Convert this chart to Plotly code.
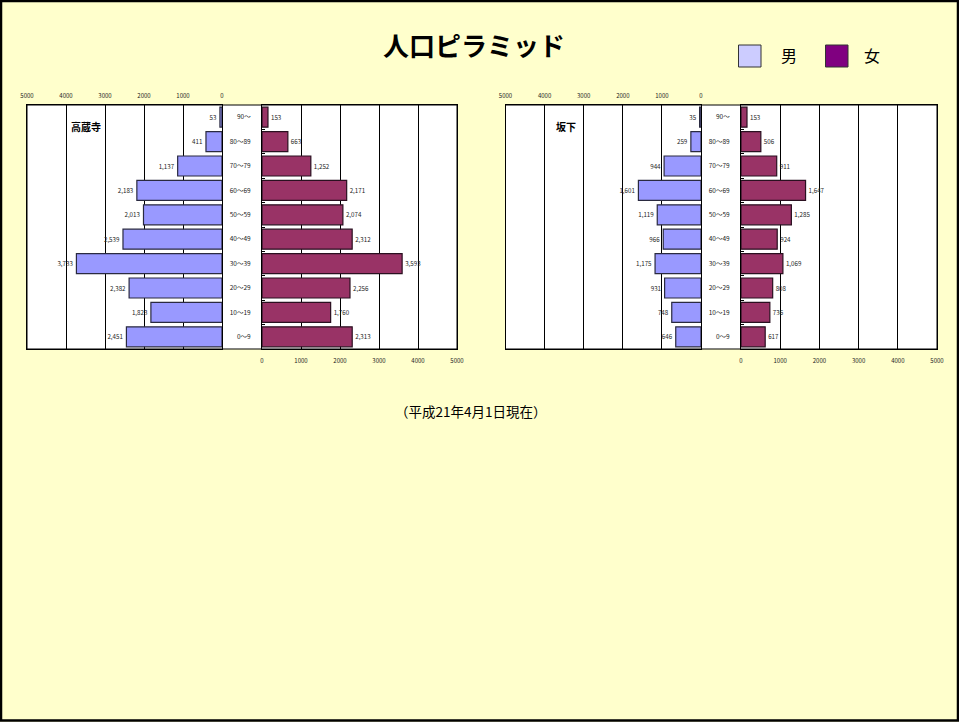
import plotly.graph_objects as go

W, H = 959, 722

age_groups = ["0～9", "10～19", "20～29", "30～39", "40～49",
              "50～59", "60～69", "70～79", "80～89", "90～"]

kozoji_male = [2451, 1823, 2382, 3733, 2539, 2013, 2183, 1137, 411, 53]
kozoji_female = [2313, 1760, 2256, 3593, 2312, 2074, 2171, 1252, 663, 153]
sakashita_male = [646, 748, 931, 1175, 966, 1119, 1601, 944, 259, 35]
sakashita_female = [617, 736, 808, 1069, 924, 1285, 1647, 911, 506, 153]

tick_vals = [0, 1000, 2000, 3000, 4000, 5000]
tick_text = ["0", "1000", "2000", "3000", "4000", "5000"]

MALE_BAR = "#9999FF"
FEMALE_BAR = "#993366"
MALE_LEG = "#CCCCFF"
FEMALE_LEG = "#800080"
BG = "#FFFFCC"
GOTHIC = "Noto Sans CJK JP, Liberation Sans, sans-serif"
TXT = "#222222"


def fx(px):
    return px / W


def fy(py):
    return 1 - py / H


PLOT_TOP, PLOT_BOT = 105, 349

fig = go.Figure()

panels = [
    ("x", "y", kozoji_male, "male"),
    ("x2", "y2", kozoji_female, "female"),
    ("x3", "y3", sakashita_male, "male"),
    ("x4", "y4", sakashita_female, "female"),
]

for xa, ya, vals, sex in panels:
    fig.add_trace(go.Bar(
        x=vals, y=age_groups, orientation="h",
        xaxis=xa, yaxis=ya,
        marker=dict(color=MALE_BAR if sex == "male" else FEMALE_BAR,
                    line=dict(color="#2a2a40" if sex == "male" else "#2a1020", width=1.2)),
        texttemplate="%{x:,}", textposition="outside",
        textfont=dict(size=6.2, color=TXT, family=GOTHIC),
        constraintext="none", cliponaxis=False,
        showlegend=False, hoverinfo="skip",
    ))

common_x = dict(
    range=[0, 5000], tickvals=tick_vals, ticktext=tick_text,
    tickfont=dict(size=6, color=TXT, family=GOTHIC),
    showgrid=True, gridcolor="#000000", gridwidth=1,
    showline=True, linecolor="#000000", linewidth=1, mirror=True,
    zeroline=False, ticks="", fixedrange=True, automargin=False,
)

domains = {
    "x": (27, 222), "x2": (262, 457),
    "x3": (505.5, 701), "x4": (741, 937),
}

layout = dict(
    width=W, height=H, autosize=False,
    margin=dict(l=0, r=0, t=0, b=0, pad=0),
    paper_bgcolor=BG, plot_bgcolor="#FFFFFF",
    bargap=0.18, showlegend=False,
    font=dict(family=GOTHIC),
)

for key in ["x", "x2", "x3", "x4"]:
    name = "xaxis" if key == "x" else "xaxis" + key[1:]
    yname = "yaxis" if key == "x" else "yaxis" + key[1:]
    male = key in ("x", "x3")
    d0, d1 = domains[key]
    xa = dict(common_x)
    xa["domain"] = [fx(d0), fx(d1)]
    xa["anchor"] = "y" if key == "x" else "y" + key[1:]
    if male:
        xa["range"] = [5000, 0]
        xa["side"] = "top"
        xa["ticklabelstandoff"] = 4
    else:
        xa["side"] = "bottom"
        xa["ticklabelstandoff"] = 6
    layout[name] = xa

    ya = dict(
        domain=[fy(PLOT_BOT), fy(PLOT_TOP)],
        anchor=key,
        type="category", categoryorder="array", categoryarray=age_groups,
        showline=True, linecolor="#000000", linewidth=1, mirror=True,
        showgrid=False, zeroline=False, fixedrange=True, automargin=False,
    )
    if male:
        ya["showticklabels"] = False
        ya["ticks"] = ""
    else:
        ya["side"] = "left"
        ya["showticklabels"] = True
        ya["tickfont"] = dict(size=6.5, color=TXT, family=GOTHIC)
        ya["ticklabelstandoff"] = 9
        ya["ticks"] = "inside"
        ya["tickson"] = "boundaries"
        ya["ticklen"] = 3
        ya["tickcolor"] = "#000000"
    layout[yname] = ya

fig.update_layout(**layout)

shapes = []
# white middle column with top/bottom border for each pyramid
for (l, r) in [(27, 457), (505.5, 937)]:
    shapes.append(dict(type="rect", xref="paper", yref="paper",
                       x0=fx(l), x1=fx(r), y0=fy(PLOT_BOT), y1=fy(PLOT_TOP),
                       fillcolor="#FFFFFF", line=dict(color="#000000", width=1),
                       layer="below"))
# outer frame
shapes.append(dict(type="rect", xref="paper", yref="paper",
                   x0=fx(1), x1=fx(958), y0=fy(720.5), y1=fy(1),
                   line=dict(color="#000000", width=2.5), fillcolor="rgba(0,0,0,0)"))
# legend swatches
shapes.append(dict(type="rect", xref="paper", yref="paper",
                   x0=fx(738.5), x1=fx(761), y0=fy(67), y1=fy(45),
                   fillcolor=MALE_LEG, line=dict(color="#333333", width=1)))
shapes.append(dict(type="rect", xref="paper", yref="paper",
                   x0=fx(825.5), x1=fx(848), y0=fy(67), y1=fy(45),
                   fillcolor=FEMALE_LEG, line=dict(color="#333333", width=1)))
fig.update_layout(shapes=shapes)

annotations = [
    dict(text="<b>人口ピラミッド</b>", x=fx(474), y=fy(45), xref="paper", yref="paper",
         showarrow=False, xanchor="center", yanchor="middle",
         font=dict(size=26, color="#000000", family=GOTHIC, weight=900)),
    dict(text="男", x=fx(779), y=fy(55), xref="paper", yref="paper",
         showarrow=False, xanchor="left", yanchor="middle",
         font=dict(size=16, color="#000000", family=GOTHIC)),
    dict(text="女", x=fx(862), y=fy(55), xref="paper", yref="paper",
         showarrow=False, xanchor="left", yanchor="middle",
         font=dict(size=16, color="#000000", family=GOTHIC)),
    dict(text="<b>高蔵寺</b>", x=fx(69), y=fy(127), xref="paper", yref="paper",
         showarrow=False, xanchor="left", yanchor="middle",
         font=dict(size=10, color="#000000", family=GOTHIC)),
    dict(text="<b>坂下</b>", x=fx(554), y=fy(127), xref="paper", yref="paper",
         showarrow=False, xanchor="left", yanchor="middle",
         font=dict(size=10, color="#000000", family=GOTHIC)),
    dict(text="（平成21年4月1日現在）", x=fx(470), y=fy(411), xref="paper", yref="paper",
         showarrow=False, xanchor="center", yanchor="middle",
         font=dict(size=13.5, color="#000000", family=GOTHIC)),
]
fig.update_layout(annotations=annotations)

fig.write_html(
    "out.html",
    config={"displayModeBar": False, "responsive": False},
    post_script="document.body.style.margin='0';document.body.style.overflow='hidden';",
)
